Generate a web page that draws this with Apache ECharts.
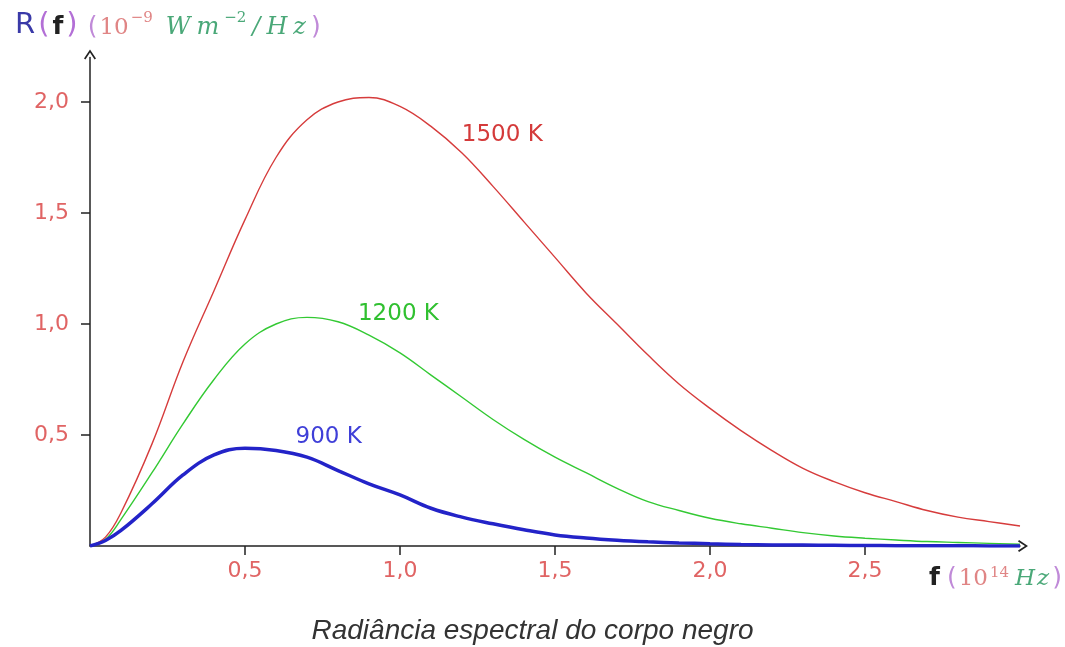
<!DOCTYPE html>
<html>
<head>
<meta charset="utf-8">
<script src="https://cdn.jsdelivr.net/npm/echarts@6/dist/echarts.min.js"></script>
<style>
  html, body { margin: 0; padding: 0; background: #fff; }
  #main { width: 1065px; height: 647px; }
</style>
</head>
<body>
<div id="main"></div>
<script>
// frequência (10^14 Hz)
var freqs = [0, 0.05, 0.1, 0.2, 0.3, 0.4, 0.5, 0.6, 0.7, 0.8, 0.9, 1.0, 1.1, 1.2, 1.3, 1.4, 1.5,
             1.6, 1.7, 1.8, 1.9, 2.0, 2.1, 2.2, 2.3, 2.4, 2.5, 2.6, 2.7, 2.8, 2.9, 3.0];
// R(f) em 10^-9 W m^-2/Hz
var r1500 = [0, 0.04, 0.15, 0.46, 0.83, 1.15, 1.47, 1.75, 1.92, 2.00, 2.02, 1.98, 1.89, 1.77, 1.62, 1.46, 1.30,
             1.14, 1.00, 0.86, 0.73, 0.62, 0.52, 0.43, 0.35, 0.29, 0.24, 0.20, 0.16, 0.13, 0.11, 0.09];
var r1200 = [0, 0.03, 0.12, 0.33, 0.55, 0.75, 0.91, 1.00, 1.03, 1.01, 0.95, 0.87, 0.77, 0.67, 0.57, 0.48, 0.40,
             0.33, 0.26, 0.20, 0.16, 0.125, 0.10, 0.08, 0.06, 0.045, 0.035, 0.027, 0.02, 0.016, 0.012, 0.008];
var r900 = [0, 0.025, 0.07, 0.19, 0.32, 0.41, 0.44, 0.43, 0.40, 0.34, 0.28, 0.23, 0.17, 0.13, 0.10, 0.073, 0.05,
            0.036, 0.026, 0.019, 0.014, 0.01, 0.007, 0.005, 0.004, 0.003, 0.002, 0.0015, 0.001, 0.001, 0.0005, 0.0003];
var xTicks = [0.5, 1.0, 1.5, 2.0, 2.5];
var yTicks = [0.5, 1.0, 1.5, 2.0];
var curveNames = ['1500 K', '1200 K', '900 K'];
// posição dos rótulos das curvas [f, R]
var labelPos = [[1.33, 1.85], [0.995, 1.045], [0.77, 0.49]];

function pairs(ys) {
    return freqs.map(function(f, i) { return [f, ys[i]]; });
}
function comma(v) {
    return v.toFixed(1).replace('.', ',');
}

var colors = ['#d63c3c', '#33c933', '#2323c8'];
var labelColors = ['#d43a3a', '#30c030', '#3f3fd8'];
var widths = [1.4, 1.4, 3.5];
var values = [r1500, r1200, r900];

// seta aberta (chevron) para as pontas dos eixos
var chevron = 'path://M0,0 L6,9 L4.6,10 L0,3 L-4.6,10 L-6,9 Z';

var series = values.map(function(v, i) {
    return {
        name: curveNames[i],
        type: 'line',
        data: pairs(v),
        smooth: 0.4,
        showSymbol: false,
        z: 3 + i,
        lineStyle: { color: colors[i], width: widths[i] },
        markPoint: {
            symbol: 'circle',
            symbolSize: 0,
            silent: true,
            data: [{
                coord: labelPos[i],
                label: {
                    show: true,
                    position: 'inside',
                    formatter: curveNames[i],
                    color: labelColors[i],
                    fontFamily: 'DejaVu Sans',
                    fontSize: 23
                }
            }]
        }
    };
});

var myChart = echarts.init(document.getElementById('main'));

var base = { fontWeight: 'normal', verticalAlign: 'bottom' };
function st(o) { return Object.assign({}, base, o); }

var unitRich = {
    p2: st({ fontFamily: 'DejaVu Sans', fontSize: 25, color: '#c08ad8', padding: [0, 2, 0, 2] }),
    u: st({ fontFamily: 'DejaVu Serif', fontSize: 23, color: '#e08585' }),
    us: st({ fontFamily: 'DejaVu Serif', fontSize: 15, color: '#e08585', verticalAlign: 'top', padding: [0, 0, 0, 2] }),
    g: st({ fontFamily: 'DejaVu Serif', fontStyle: 'italic', fontSize: 24, color: '#4aa878', padding: [0, 3, 0, 3] }),
    gs: st({ fontFamily: 'DejaVu Serif', fontSize: 15, color: '#4aa878', verticalAlign: 'top', padding: [0, 3, 0, 2] })
};

var option = {
    backgroundColor: '#fff',
    animation: false,
    title: [
        {
            left: 10,
            top: 6,
            text: '{R|R}{p|(}{f|f}{p|)} {p2|(}{u|10}{us|−9}  {g|W}{g|m}{gs|−2}{g|/}{g|H}{g|z}{p2|)}',
            textStyle: {
                fontWeight: 'normal',
                rich: Object.assign({
                    R: st({ fontFamily: 'DejaVu Sans', fontSize: 29, color: '#3a3aa8' }),
                    p: st({ fontFamily: 'DejaVu Sans', fontSize: 29, color: '#b36fd6', padding: [0, 3, 0, 3] }),
                    f: st({ fontFamily: 'DejaVu Sans', fontSize: 25, fontWeight: 'bold', color: '#222' })
                }, unitRich)
            }
        },
        {
            left: 924,
            top: 561,
            text: '{f|f} {p2|(}{u|10}{us|14} {h|H}{h|z}{p2|)}',
            textStyle: {
                fontWeight: 'normal',
                rich: Object.assign({
                    f: st({ fontFamily: 'DejaVu Sans', fontSize: 25, fontWeight: 'bold', color: '#222' }),
                    h: st({ fontFamily: 'DejaVu Serif', fontStyle: 'italic', fontSize: 23, color: '#4aa878', padding: [0, 1, 0, 1] })
                }, unitRich)
            }
        },
        {
            text: 'Radiância espectral do corpo negro',
            left: 'center',
            top: 612,
            textStyle: {
                fontFamily: 'Liberation Sans',
                fontStyle: 'italic',
                fontWeight: 'normal',
                fontSize: 28,
                color: '#333'
            }
        }
    ],
    grid: {
        left: 90,
        right: 45,
        top: 57.6,
        bottom: 101
    },
    xAxis: {
        type: 'value',
        min: 0,
        max: 3.0,
        interval: 0.5,
        axisLine: {
            show: true,
            symbol: ['none', chevron],
            symbolSize: [12, 11],
            symbolOffset: [0, 3],
            lineStyle: { color: '#222', width: 1.5 }
        },
        axisTick: {
            show: true,
            length: 9,
            customValues: xTicks,
            lineStyle: { color: '#222', width: 1.5 }
        },
        axisLabel: {
            customValues: xTicks,
            margin: 14,
            color: '#e06464',
            fontFamily: 'DejaVu Sans',
            fontSize: 22,
            formatter: function(v) { return comma(v); }
        },
        splitLine: { show: false }
    },
    yAxis: {
        type: 'value',
        min: 0,
        max: 2.2,
        interval: 0.5,
        axisLine: {
            show: true,
            symbol: ['none', chevron],
            symbolSize: [12, 11],
            symbolOffset: [0, 3],
            lineStyle: { color: '#222', width: 1.5 }
        },
        axisTick: {
            show: true,
            length: 9,
            customValues: yTicks,
            lineStyle: { color: '#222', width: 1.5 }
        },
        axisLabel: {
            customValues: yTicks,
            margin: 21,
            color: '#e06464',
            fontFamily: 'DejaVu Sans',
            fontSize: 22,
            formatter: function(v) { return comma(v); }
        },
        splitLine: { show: false }
    },
    series: series
};

myChart.setOption(option);
</script>
</body>
</html>
